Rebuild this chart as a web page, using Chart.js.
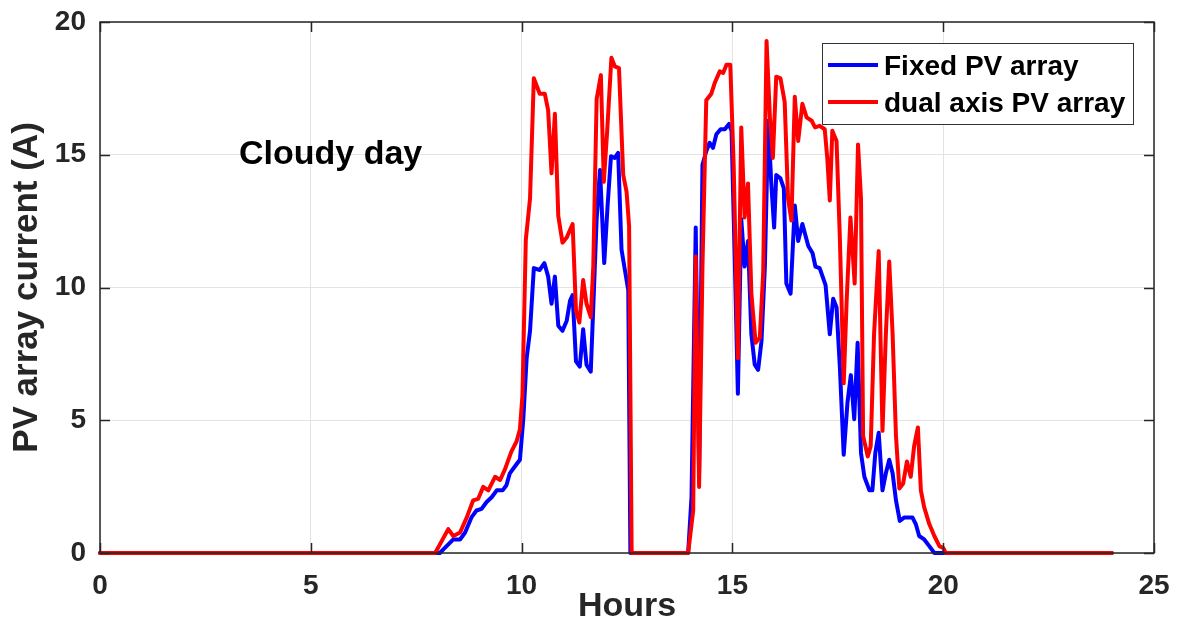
<!DOCTYPE html>
<html>
<head>
<meta charset="utf-8">
<script src="https://cdn.jsdelivr.net/npm/chart.js@4/dist/chart.umd.min.js"></script>
<style>
  html, body { margin: 0; padding: 0; background: #fff; }
  #wrap { width: 1179px; height: 622px; position: relative; }
</style>
</head>
<body>
<div id="wrap"><canvas id="c" width="1179" height="622"></canvas></div>
<script>
// ---- data ----
const seriesNames = ['Fixed PV array', 'dual axis PV array'];
const xTicks = [0, 5, 10, 15, 20, 25];
const yTicks = [0, 5, 10, 15, 20];
const annotationText = 'Cloudy day';

const fixedHours = [0,8.06,8.18,8.38,8.54,8.66,8.81,8.93,9.05,9.17,9.29,9.41,9.55,9.64,9.72,9.84,9.96,10.04,10.12,10.2,10.29,10.43,10.54,10.63,10.71,10.79,10.87,10.97,11.07,11.15,11.21,11.29,11.38,11.46,11.54,11.64,11.7,11.78,11.86,11.96,12.04,12.12,12.21,12.29,12.37,12.45,12.53,12.58,13.95,14.03,14.13,14.21,14.29,14.38,14.46,14.54,14.62,14.72,14.82,14.92,14.98,15.06,15.13,15.21,15.29,15.37,15.45,15.53,15.61,15.69,15.77,15.85,15.92,15.99,16.04,16.14,16.22,16.28,16.38,16.48,16.56,16.66,16.8,16.9,16.97,17.07,17.21,17.31,17.39,17.47,17.55,17.64,17.73,17.81,17.89,17.97,18.05,18.13,18.25,18.32,18.39,18.47,18.56,18.64,18.72,18.8,18.88,18.97,19.08,19.27,19.35,19.43,19.55,19.67,19.79,24];
const fixedCurrent = [0,0,0.19,0.51,0.51,0.77,1.34,1.6,1.66,1.92,2.1,2.36,2.36,2.55,3.0,3.26,3.51,5.04,7.34,8.37,10.73,10.66,10.92,10.41,9.39,10.41,8.56,8.37,8.75,9.51,9.71,7.22,7.02,8.43,7.09,6.83,9.26,12.58,14.43,10.92,13.09,14.94,14.88,15.07,11.43,10.66,9.9,0,0,2.1,12.26,3.0,14.62,15.13,15.45,15.26,15.77,15.96,15.96,16.16,15.9,10.79,6.0,12.58,10.79,11.75,8.24,7.09,6.9,7.98,10.79,16.28,13.98,12.26,14.24,14.11,13.73,10.15,9.77,13.09,11.75,12.39,11.56,11.3,10.79,10.73,10.09,8.24,9.58,9.26,6.96,3.7,5.68,6.7,5.04,7.92,3.77,2.87,2.36,2.36,3.77,4.53,2.36,3.0,3.51,3.0,1.98,1.21,1.34,1.34,1.09,0.64,0.51,0.26,0,0];

const dualHours = [0,7.95,8.26,8.38,8.54,8.7,8.85,8.97,9.09,9.21,9.37,9.49,9.6,9.76,9.88,9.96,10.02,10.1,10.2,10.29,10.43,10.55,10.63,10.71,10.79,10.87,10.97,11.07,11.21,11.29,11.37,11.46,11.54,11.64,11.7,11.78,11.88,11.95,12.03,12.13,12.21,12.31,12.41,12.49,12.55,12.61,13.95,14.07,14.13,14.21,14.29,14.38,14.5,14.58,14.7,14.78,14.86,14.95,15.03,15.13,15.21,15.29,15.37,15.45,15.55,15.65,15.73,15.81,15.89,15.96,16.04,16.14,16.24,16.32,16.4,16.48,16.56,16.66,16.76,16.88,16.96,17.07,17.19,17.25,17.31,17.37,17.47,17.55,17.64,17.71,17.8,17.9,17.98,18.05,18.1,18.21,18.28,18.36,18.47,18.56,18.64,18.72,18.8,18.88,18.96,19.05,19.14,19.23,19.31,19.4,19.47,19.55,19.67,19.79,19.91,20.0,20.06,24];
const dualCurrent = [0,0,0.9,0.64,0.77,1.34,1.98,2.04,2.49,2.36,2.87,2.75,3.13,3.83,4.2,4.66,5.94,11.8,13.35,17.88,17.3,17.3,16.67,14.3,16.54,12.7,11.69,11.88,12.39,9.13,8.68,10.28,9.39,8.88,10.79,17.1,18.0,13.98,15.9,18.65,18.33,18.26,14.24,13.6,12.3,0,0,1.6,11.17,2.49,10.8,17.05,17.3,17.7,18.14,18.08,18.39,18.39,14.62,7.34,16.03,12.64,13.92,9.77,7.92,8.11,10.54,19.28,16.41,14.88,17.94,17.88,16.99,13.35,12.52,17.18,15.52,16.92,16.41,16.28,16.03,16.09,15.96,14.88,13.28,15.9,15.52,11.81,6.39,9.51,12.64,10.15,15.39,13.35,4.41,3.64,4.02,8.24,11.37,4.6,8.24,10.98,8.24,4.41,2.43,2.62,3.45,2.87,4.02,4.73,2.36,1.72,1.09,0.64,0.26,0.19,0,0];

// ---- styling ----
const FONT = '"Liberation Sans", Arial, Helvetica, sans-serif';
const AXIS_COLOR = '#262626';
const BLUE = '#0000ff';
const RED = '#ff0000';

function toPoints(xs, ys) { return xs.map((x, i) => ({ x: x, y: ys[i] })); }

const boxPlugin = {
  id: 'matlabBox',
  afterDatasetsDraw(chart) {
    const { ctx, chartArea: a, scales } = chart;
    ctx.save();
    // box
    ctx.strokeStyle = AXIS_COLOR;
    ctx.lineWidth = 1.5;
    ctx.strokeRect(a.left, a.top, a.right - a.left, a.bottom - a.top);
    // inward ticks
    const tl = 10;
    ctx.beginPath();
    xTicks.forEach(v => {
      const px = Math.round(scales.x.getPixelForValue(v)) + 0.5;
      ctx.moveTo(px, a.bottom); ctx.lineTo(px, a.bottom - tl);
      ctx.moveTo(px, a.top); ctx.lineTo(px, a.top + tl);
    });
    yTicks.forEach(v => {
      const py = Math.round(scales.y.getPixelForValue(v)) + 0.5;
      ctx.moveTo(a.left, py); ctx.lineTo(a.left + tl, py);
      ctx.moveTo(a.right, py); ctx.lineTo(a.right - tl, py);
    });
    ctx.stroke();

    // annotation
    ctx.fillStyle = '#000';
    ctx.font = 'bold 34px ' + FONT;
    ctx.textAlign = 'left';
    ctx.textBaseline = 'alphabetic';
    ctx.fillText(annotationText, 239, 164);

    // legend
    const lx = 822, ly = 43, lw = 311, lh = 81;
    ctx.fillStyle = '#fff';
    ctx.fillRect(lx, ly, lw, lh);
    ctx.strokeStyle = '#333';
    ctx.lineWidth = 1;
    ctx.strokeRect(lx + 0.5, ly + 0.5, lw, lh);
    const rows = [{ c: BLUE, t: seriesNames[0], y: 65 }, { c: RED, t: seriesNames[1], y: 102 }];
    ctx.font = 'bold 28px ' + FONT;
    ctx.textBaseline = 'alphabetic';
    rows.forEach(r => {
      ctx.strokeStyle = r.c;
      ctx.lineWidth = 4;
      ctx.beginPath();
      ctx.moveTo(828, r.y); ctx.lineTo(878, r.y);
      ctx.stroke();
      ctx.fillStyle = '#000';
      ctx.fillText(r.t, 884, r.y + 10);
    });
    ctx.restore();
  }
};

new Chart(document.getElementById('c'), {
  type: 'line',
  data: {
    datasets: [
      { label: seriesNames[0], data: toPoints(fixedHours, fixedCurrent), borderColor: BLUE, borderWidth: 4, pointRadius: 0, tension: 0, order: 1, clip: 6 },
      { label: seriesNames[1], data: toPoints(dualHours, dualCurrent), borderColor: RED, borderWidth: 4, pointRadius: 0, tension: 0, order: 0, clip: 6 }
    ]
  },
  options: {
    responsive: false,
    animation: false,
    devicePixelRatio: 1,
    layout: { padding: { left: 0, top: 22, right: 25, bottom: 0 } },
    plugins: { legend: { display: false }, tooltip: { enabled: false } },
    elements: { line: { borderJoinStyle: 'round', borderCapStyle: 'round' } },
    scales: {
      x: {
        type: 'linear', min: 0, max: 25,
        afterBuildTicks: s => { s.ticks = xTicks.map(v => ({ value: v })); },
        afterFit: s => { s.height = 69; s.paddingLeft = 0; s.paddingRight = 0; },
        grid: { color: '#e3e3e3', lineWidth: 1, drawTicks: false },
        border: { display: false },
        ticks: { color: AXIS_COLOR, font: { family: FONT, size: 28, weight: 'bold' }, padding: 16, maxRotation: 0 },
        title: { display: true, text: 'Hours', color: AXIS_COLOR, font: { family: FONT, size: 34, weight: 'bold', lineHeight: 0.9 }, padding: { top: 0, bottom: 0 } }
      },
      y: {
        type: 'linear', min: 0, max: 20,
        afterBuildTicks: s => { s.ticks = yTicks.map(v => ({ value: v })); },
        afterFit: s => { s.width = 100; s.paddingTop = 0; s.paddingBottom = 0; },
        grid: { color: '#e3e3e3', lineWidth: 1, drawTicks: false },
        border: { display: false },
        ticks: { color: AXIS_COLOR, font: { family: FONT, size: 28, weight: 'bold' }, padding: 14 },
        title: { display: true, text: 'PV array current (A)', color: AXIS_COLOR, font: { family: FONT, size: 35, weight: 'bold', lineHeight: 1 }, padding: { top: 10, bottom: 0 } }
      }
    }
  },
  plugins: [boxPlugin]
});
</script>
</body>
</html>
